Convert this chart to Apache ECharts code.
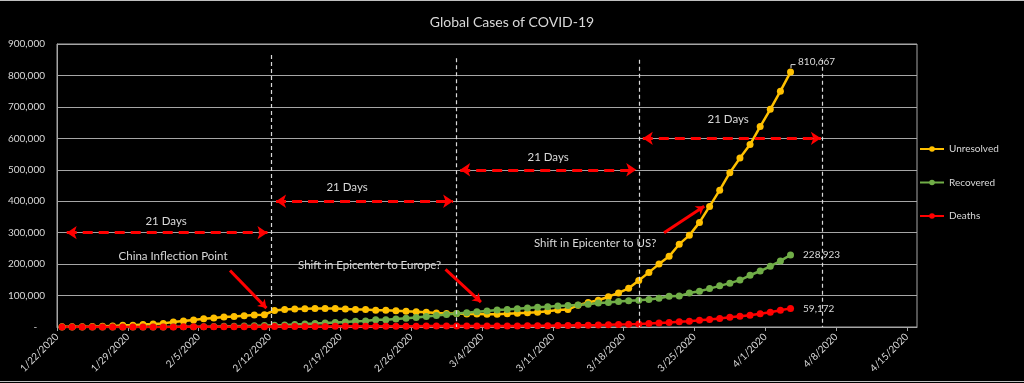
<!DOCTYPE html>
<html>
<head>
<meta charset="utf-8">
<script src="https://cdn.jsdelivr.net/npm/echarts@6/dist/echarts.min.js"></script>
<style>
html,body{margin:0;padding:0;background:#000;}
#c{width:1024px;height:383px;}
</style>
</head>
<body>
<div id="c"></div>
<script>
// ---- data ----
const dates = ['1/22','1/23','1/24','1/25','1/26','1/27','1/28','1/29','1/30','1/31',
  '2/1','2/2','2/3','2/4','2/5','2/6','2/7','2/8','2/9','2/10','2/11','2/12','2/13','2/14','2/15','2/16','2/17','2/18','2/19','2/20','2/21','2/22','2/23','2/24','2/25','2/26','2/27','2/28','2/29',
  '3/1','3/2','3/3','3/4','3/5','3/6','3/7','3/8','3/9','3/10','3/11','3/12','3/13','3/14','3/15','3/16','3/17','3/18','3/19','3/20','3/21','3/22','3/23','3/24','3/25','3/26','3/27','3/28','3/29','3/30','3/31',
  '4/1','4/2','4/3'];
const unresolved = [510,606,879,1353,2010,2784,5340,5907,7920,9492,
  11495,15953,18838,22554,25955,28681,31665,33707,36010,37810,39015,52715,56000,57328,57991,58600,58819,58793,57417,55772,55678,53228,53095,51705,49793,48234,46655,44529,43288,
  42657,41619,41452,40696,40742,42476,43931,45325,47108,49954,54257,55308,69550,77658,84980,96360,108357,122881,147849,173653,200035,224626,263404,291430,332685,383471,435178,490639,537110,580217,637346,
  692248,749911,810667];
const recovered = [28,30,36,39,52,61,107,126,143,222,
  284,472,623,852,1124,1487,2011,2616,3244,3946,4683,5900,6295,8058,9395,10865,12583,14352,16121,18177,18890,22886,23394,25227,27905,30384,33277,36711,39782,
  42716,45602,48228,51170,53796,55865,58358,60694,62494,64404,67003,68324,70251,72624,76034,78088,80840,83207,84854,87256,91499,97704,98334,108000,113787,122150,130915,139415,149082,164566,178034,
  193177,210263,228923];
const deaths = [17,18,26,42,56,82,131,133,171,213,
  259,362,426,492,564,634,719,806,906,1013,1113,1370,1380,1523,1666,1770,1868,2007,2122,2247,2251,2458,2469,2629,2708,2770,2814,2872,2941,
  2996,3085,3160,3254,3348,3460,3558,3802,3988,4262,4615,4720,5404,5819,6440,7126,7905,8733,9867,11299,12973,14623,16497,18615,21181,23970,27198,30652,33925,37582,42107,
  47180,52983,59172];
const tickLabels = ['1/22/2020','1/29/2020','2/5/2020','2/12/2020','2/19/2020','2/26/2020','3/4/2020','3/11/2020','3/18/2020','3/25/2020','4/1/2020','4/8/2020','4/15/2020'];
const seriesNames = ['Unresolved','Recovered','Deaths'];

// annotations (in data coordinates: day index, cases)
const spanArrows = [[0.96,20.8,300000],[21.65,39.15,400000],[39.85,57.25,500000],[57.9,75.5,600000]];
const spanLabels = [[10.78,337600,'21 Days'],[28.67,444900,'21 Days'],[48.54,540400,'21 Days'],[66.34,661500,'21 Days']];
const vLines = [[21.16,865000],[39.45,855000],[57.5,850000],[75.6,850000]];
const callouts = [
  {text:'China Inflection Point', at:[11.47,225200], from:[17.1,179900], to:[20.7,60100]},
  {text:'Shift in Epicenter to Europe?', at:[30.9,196500], from:[38.4,183000], to:[41.9,79200]},
  {text:'Shift in Epicenter to US?', at:[53.19,266600], from:[60.0,299400], to:[63.97,384000]}
];

// ---- chart ----
const TXT = '#d9d9d9';
const GRID = '#a6a6a6';
const FONT = 'Lato';
const colors = ['#ffc000','#70ad47','#ff0000'];
const last = dates.length - 1;

function pts(arr, k){
  return arr.map((v,i)=>{
    const item = {value:[i+0.5, v]};
    if(i === last){
      item.label = {show:true, color:TXT, fontFamily:FONT, fontSize:10,
        position: k === 0 ? [11, -12] : 'right', distance: 9,
        formatter: (p)=>p.value[1].toLocaleString('en-US')};
    }
    return item;
  });
}

const chart = echarts.init(document.getElementById('c'));
const mainSeries = [unresolved, recovered, deaths].map((arr,k)=>({
  name: seriesNames[k], type:'line', data: pts(arr,k), color: colors[k],
  symbol:'circle', symbolSize:7, showAllSymbol:true,
  lineStyle:{width:2.5, color: colors[k]}, itemStyle:{color: colors[k]},
  emphasis:{disabled:true}, animation:false
}));

const arrowLines = spanArrows.map(a=>[{coord:[a[0],a[2]]},{coord:[a[1],a[2]]}]);
const vLineData = vLines.map(v=>[{coord:[v[0],v[1]]},{coord:[v[0],0]}]);
const calloutLines = callouts.map(c=>[{coord:c.from},{coord:c.to}]);

const noteSeries = [
  {type:'line', name:'_arrows', data:[], animation:false, silent:true,
   markLine:{silent:true, animation:false, symbol:['arrow','arrow'], symbolSize:[10,10], label:{show:false},
     lineStyle:{color:'#ff0000', width:3, type:[10,6]}, emphasis:{disabled:true}, data: arrowLines}},
  {type:'line', name:'_vlines', data:[], animation:false, silent:true,
   markLine:{silent:true, animation:false, symbol:['none','none'], label:{show:false},
     lineStyle:{color:TXT, width:1.2, type:[4,3]}, emphasis:{disabled:true}, data: vLineData}},
  {type:'line', name:'_callouts', data:[], animation:false, silent:true,
   markLine:{silent:true, animation:false, symbol:['none','arrow'], symbolSize:[8,8], label:{show:false},
     lineStyle:{color:'#ff0000', width:3, type:'solid'}, emphasis:{disabled:true}, data: calloutLines}},
  {type:'line', name:'_texts', data:[], animation:false, silent:true,
   markPoint:{silent:true, animation:false, symbol:'circle', symbolSize:0,
     label:{show:true, position:'inside', color:TXT, fontFamily:FONT, fontSize:11.5, formatter:'{b}'},
     data: spanLabels.map(s=>({name:s[2], coord:[s[0],s[1]]}))
       .concat(callouts.map(c=>({name:c.text, coord:c.at})))}}
];

chart.setOption({
  backgroundColor:'#000',
  animation:false,
  textStyle:{fontFamily:FONT},
  title:{text:'Global Cases of COVID-19', left:'center', top:10,
    textStyle:{color:TXT, fontFamily:FONT, fontSize:14, fontWeight:'normal'}},
  legend:{orient:'vertical', left:914, top:139, itemWidth:24, itemHeight:7, itemGap:23.5,
    data: seriesNames, textStyle:{color:TXT, fontFamily:FONT, fontSize:10}, selectedMode:false},
  grid:{left:57, right:107, top:44, bottom:56, show:true, borderColor:GRID, borderWidth:1, backgroundColor:'transparent'},
  xAxis:{type:'value', min:0, max:85, interval:7,
    axisLine:{show:true, lineStyle:{color:GRID, width:1}},
    axisTick:{show:true, length:4, lineStyle:{color:GRID}},
    splitLine:{show:false},
    axisLabel:{rotate:45, color:TXT, fontFamily:FONT, fontSize:10, margin:8, showMaxLabel:false,
      formatter:(v)=>{ const i = Math.round(v/7); return (v % 7 === 0 && tickLabels[i]) ? tickLabels[i] : ''; }}},
  yAxis:{type:'value', min:0, max:900000, interval:100000,
    axisLine:{show:true, lineStyle:{color:GRID}},
    axisTick:{show:false},
    splitLine:{show:true, lineStyle:{color:GRID, width:1}},
    axisLabel:{color:TXT, fontFamily:FONT, fontSize:10, margin:12,
      formatter:(v)=> v === 0 ? '-   ' : v.toLocaleString('en-US')}},
  series: mainSeries.concat(noteSeries)
});

// leader line for the top end label, placed from the library's own pixel mapping
const p = chart.convertToPixel({gridIndex:0}, [last+0.5, unresolved[last]]);
chart.setOption({
  graphic:[
    {type:'line', shape:{x1:0,y1:0.5,x2:1024,y2:0.5}, style:{stroke:'#bfbfbf', lineWidth:1}, silent:true},
    {type:'line', shape:{x1:0,y1:381.5,x2:1024,y2:381.5}, style:{stroke:'#bfbfbf', lineWidth:1}, silent:true},
    {type:'polyline', shape:{points:[[p[0]+0.5,p[1]-4],[p[0]+0.5,p[1]-7.5],[p[0]+5,p[1]-7.5]]},
     style:{stroke:TXT, lineWidth:1, fill:null}, silent:true, z:10}
  ]
});
</script>
</body>
</html>
